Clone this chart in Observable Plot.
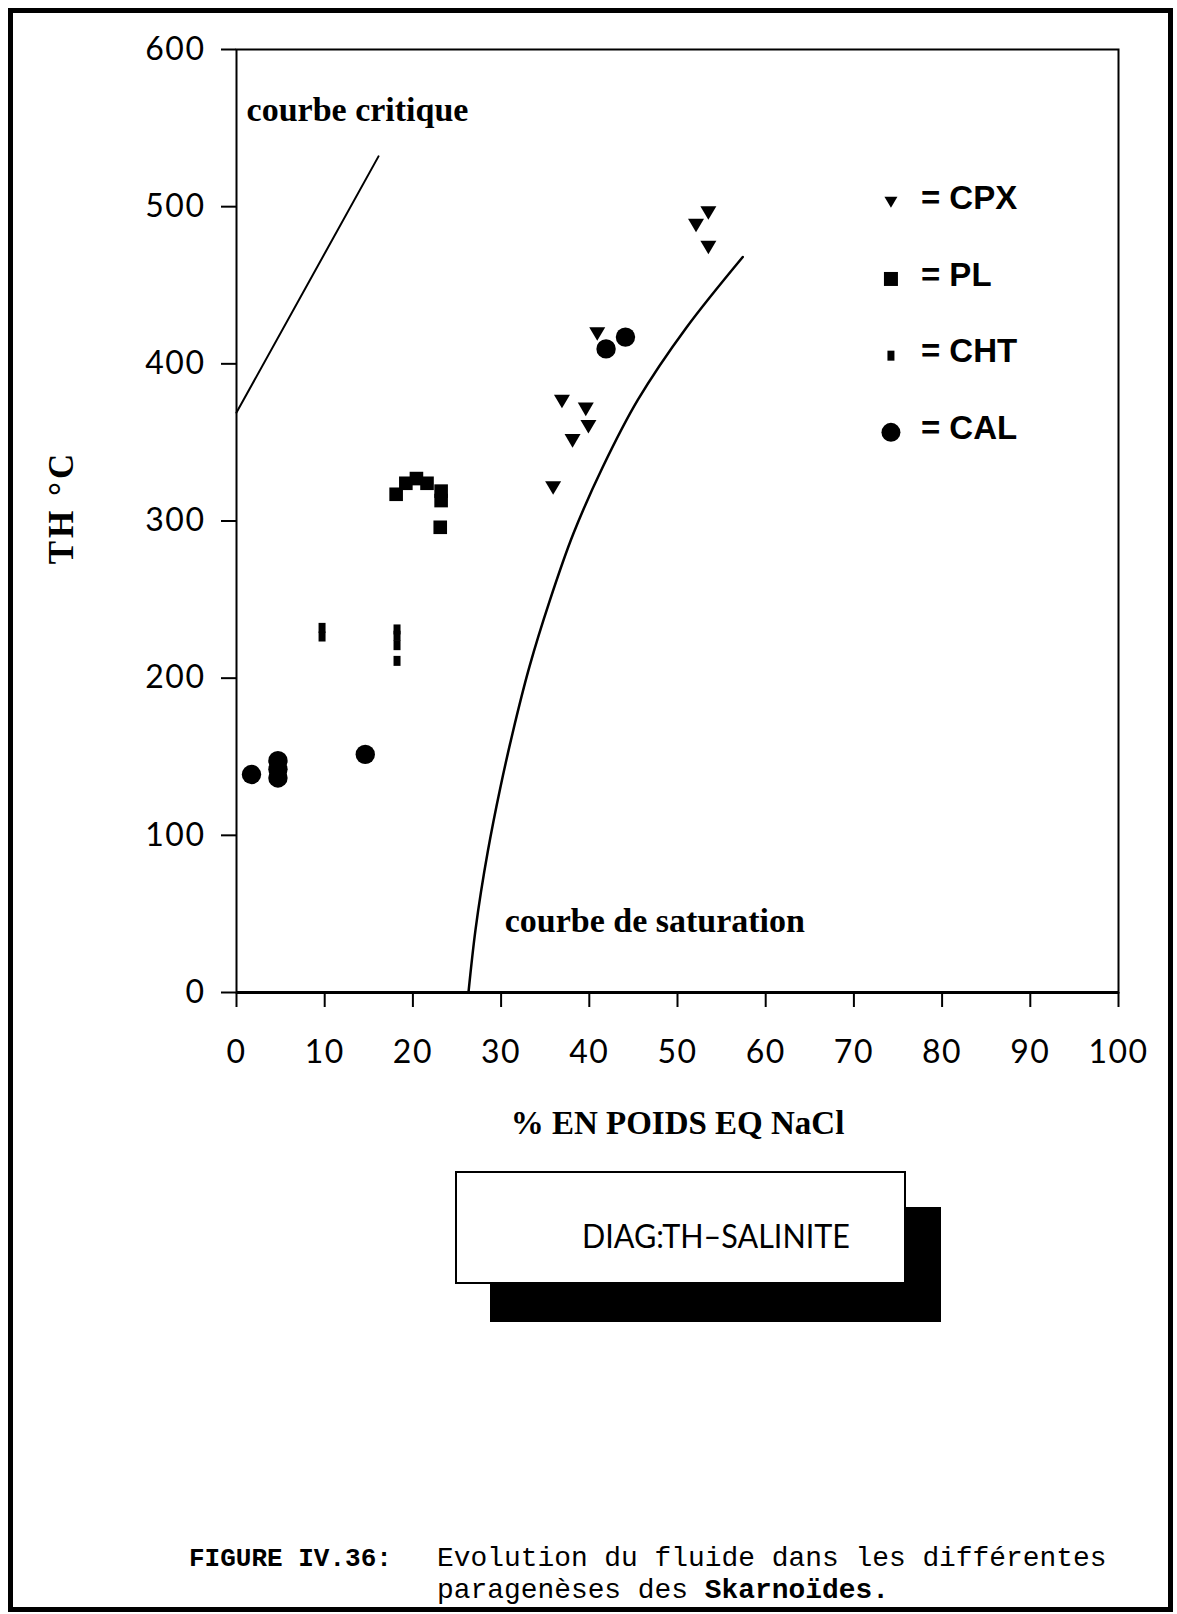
<!DOCTYPE html>
<html>
<head>
<meta charset="utf-8">
<script src="https://cdn.jsdelivr.net/npm/d3@7"></script>
<script src="https://cdn.jsdelivr.net/npm/@observablehq/plot@0.6"></script>
<style>
  html, body { margin: 0; padding: 0; background: #fff; }
  #page { position: relative; width: 1177px; height: 1614px; overflow: hidden; background: #fff; }
  #border { position: absolute; left: 8px; top: 8px; width: 1155px; height: 1594px; border: 5px solid #000; }
  #chart { position: absolute; left: 0; top: 0; }
  #overlay { position: absolute; left: 0; top: 0; }
  #chart svg [aria-label="x-axis tick label"] text,
  #chart svg [aria-label="y-axis tick label"] text { letter-spacing: 1.5px; }
</style>
</head>
<body>
<div id="page">
  <div id="border"></div>
  <div id="chart"></div>
</div>
<script>
// ---- data ----
const cpxSalinity = [53.5, 52.1, 53.5, 40.9, 36.9, 39.6, 39.9, 38.1, 35.9];
const cpxTh       = [496, 488, 474, 419, 376, 371, 360, 351, 321];

const plSalinity  = [18.1, 19.2, 20.4, 21.6, 23.2, 23.2, 23.1];
const plTh        = [317, 324, 327, 324, 319, 313, 296];

const chtSalinity = [9.7, 9.7, 18.2, 18.2, 18.2, 18.2];
const chtTh       = [232, 226.5, 231, 227, 221, 211];

const calSalinity = [1.7, 4.7, 4.7, 4.7, 14.6, 41.9, 44.1];
const calTh       = [138.7, 147.5, 142, 136.5, 151.5, 409.5, 417];

const critSalinity = [0, 16.1];
const critTh       = [369, 532];

const satSalinity = [26.3, 27.1, 28.5, 29.9, 31.3, 33.2, 35.5, 38.2, 41.5, 45.5, 51, 57.4];
const satTh       = [0, 40, 90, 130, 165, 207, 249, 292, 334, 377, 423, 468];

const xTicks = [0, 10, 20, 30, 40, 50, 60, 70, 80, 90, 100];
const yTicks = [0, 100, 200, 300, 400, 500, 600];

const legendLabels = ["CPX", "PL", "CHT", "CAL"];
const xLabel = "% EN POIDS EQ NaCl";
const yLabel = "TH °C";
const critLabel = "courbe critique";
const satLabel = "courbe de saturation";
const boxLabel = "DIAG:TH–SALINITE";
const captionHead = "FIGURE IV.36:";
const captionLine1 = "Evolution du fluide dans les différentes";
const captionLine2a = "paragenèses des ";
const captionLine2b = "Skarnoïdes.";

// ---- symbols ----
function mkSymbol(fn) { return { draw(ctx, size) { fn(ctx, Math.sqrt(size / Math.PI)); } }; }
const triDown = mkSymbol((c, r) => { const h = r * 1.7; c.moveTo(-r, -h / 2); c.lineTo(r, -h / 2); c.lineTo(0, h / 2); c.closePath(); });
const squareSym = mkSymbol((c, r) => { c.rect(-r, -r, 2 * r, 2 * r); });
const barSym = mkSymbol((c, r) => { c.rect(-0.35 * r, -0.5 * r, 0.7 * r, r); });

const zip = (xs, ys) => xs.map((x, i) => ({x, y: ys[i]}));
const cpx = zip(cpxSalinity, cpxTh);
const pl = zip(plSalinity, plTh);
const cht = zip(chtSalinity, chtTh);
const cal = zip(calSalinity, calTh);
const crit = zip(critSalinity, critTh);
const sat = zip(satSalinity, satTh);

const legendSymbols = [triDown, squareSym, barSym, "circle"];
const legendR = [6.5, 7, 10, 9.5];
const legendX = 74.2, legendTextX = 77.6, legendTop = 502.8, legendStep = 48.8;
const legendItems = legendLabels.map((l, i) => ({label: "= " + l, sym: legendSymbols[i], r: legendR[i],
  x: legendX, tx: legendTextX, y: legendTop - i * legendStep, ty: legendTop - 4.2 - i * legendStep}));

const tickFont = "Lato, 'Open Sans', 'DejaVu Sans', sans-serif";
const serif = "'Liberation Serif', 'DejaVu Serif', serif";

const chart = Plot.plot({
  width: 1177,
  height: 1160,
  marginLeft: 236,
  marginRight: 59,
  marginTop: 49,
  marginBottom: 168,
  x: {domain: [0, 100]},
  y: {domain: [0, 600]},
  style: {background: "transparent", color: "black", fontFamily: tickFont, overflow: "visible"},
  marks: [
    Plot.frame({stroke: "black", strokeWidth: 2}),
    Plot.ruleY([0], {stroke: "black", strokeWidth: 3}),
    Plot.axisX({ticks: xTicks, tickSize: 15, tickPadding: 33, label: null, fontSize: 32, fontWeight: 400, strokeWidth: 2, tickFormat: d => String(d)}),
    Plot.axisY({ticks: yTicks, tickSize: 15, tickPadding: 16, label: null, fontSize: 32, fontWeight: 400, strokeWidth: 2, tickFormat: d => String(d)}),
    Plot.line(crit, {x: "x", y: "y", stroke: "black", strokeWidth: 2}),
    Plot.line(sat, {x: "x", y: "y", stroke: "black", strokeWidth: 2.5, curve: "monotone-y"}),
    Plot.dot(cal, {x: "x", y: "y", r: 9.7, symbol: "circle", fill: "black", stroke: "none"}),
    Plot.dot(pl, {x: "x", y: "y", r: 6.8, symbol: squareSym, fill: "black", stroke: "none"}),
    Plot.dot(cht, {x: "x", y: "y", r: 10, symbol: barSym, fill: "black", stroke: "none"}),
    Plot.dot(cpx, {x: "x", y: "y", r: 8, symbol: triDown, fill: "black", stroke: "none"}),
    // legend
    ...legendItems.map(d => Plot.dot([d], {x: "x", y: "y", r: d.r, symbol: d.sym, fill: "black", stroke: "none"})),
    Plot.text(legendItems, {x: "tx", y: "ty", text: "label", textAnchor: "start", lineAnchor: "bottom",
      fontFamily: "'Liberation Sans', Arial, sans-serif", fontWeight: "bold", fontSize: 33, fill: "black"}),
    // annotations
    Plot.text([{x: 1.14, y: 554.2, t: critLabel}, {x: 30.4, y: 38.8, t: satLabel}], {x: "x", y: "y", text: "t",
      textAnchor: "start", lineAnchor: "bottom", fontFamily: serif, fontWeight: "bold", fontSize: 34, fill: "black"}),
    Plot.text([xLabel], {frameAnchor: "bottom", dy: 141, lineAnchor: "bottom", fontFamily: serif, fontWeight: "bold", fontSize: 33, fill: "black"}),
    Plot.text([yLabel], {frameAnchor: "left", textAnchor: "middle", dx: -175, dy: -13.5, rotate: -90, lineAnchor: "middle",
      fontFamily: serif, fontWeight: "bold", fontSize: 35, fill: "black"})
  ]
});
document.getElementById("chart").appendChild(chart);
d3.select(chart).selectAll("text").filter(function() { return d3.select(this).text() === yLabel; }).style("letter-spacing", "3px");

// ---- DIAG box and caption (overlay) ----
const mono = "'Liberation Mono', 'Courier New', monospace";
const ov = d3.select("#page").append("svg").attr("id", "overlay").attr("width", 1177).attr("height", 1614);
ov.append("rect").attr("x", 490).attr("y", 1207).attr("width", 451).attr("height", 115).attr("fill", "black");
ov.append("rect").attr("x", 456).attr("y", 1172).attr("width", 449).attr("height", 111).attr("fill", "white").attr("stroke", "black").attr("stroke-width", 2);
ov.append("text").attr("x", 716).attr("y", 1248).attr("text-anchor", "middle")
  .attr("font-family", tickFont).attr("font-weight", 400).attr("font-size", 33)
  .attr("textLength", 268).attr("lengthAdjust", "spacingAndGlyphs").attr("fill", "black").text(boxLabel);
ov.append("text").attr("x", 189).attr("y", 1566).attr("font-family", mono)
  .attr("font-weight", "bold").attr("font-size", 26).attr("fill", "black").text(captionHead);
ov.append("text").attr("x", 437).attr("y", 1566).attr("font-family", mono)
  .attr("font-size", 27.9).attr("fill", "black").text(captionLine1);
const l2 = ov.append("text").attr("x", 437).attr("y", 1598).attr("font-family", mono)
  .attr("font-size", 27.9).attr("fill", "black").style("white-space", "pre");
l2.append("tspan").text(captionLine2a);
l2.append("tspan").attr("font-weight", "bold").text(captionLine2b);
</script>
</body>
</html>
